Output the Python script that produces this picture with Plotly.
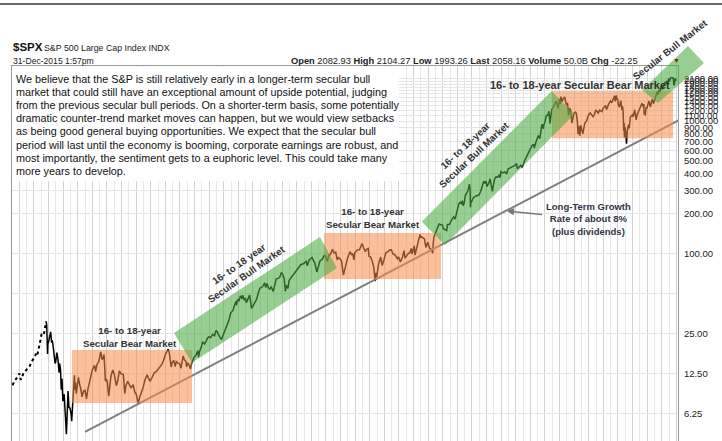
import math
import plotly.graph_objects as go

# ---------------- data (decimal year, index level) ----------------
early_years = [1925.05, 1925.3, 1925.55, 1925.8, 1926.0, 1926.2, 1926.35, 1926.55, 1926.75, 1926.95,
               1927.2, 1927.45, 1927.65, 1927.85, 1928.0, 1928.2, 1928.4, 1928.5, 1928.7, 1928.9,
               1929.05, 1929.2, 1929.4, 1929.55, 1929.68]
early_prices = [10.3, 10.9, 11.4, 12.0, 12.6, 11.3, 11.7, 12.6, 13.0, 13.3,
                13.8, 14.4, 15.4, 15.8, 16.4, 17.3, 18.2, 17.6, 19.5, 22.5,
                25.0, 24.5, 25.5, 28.5, 31.0]

years = [
    1929.68, 1929.75, 1929.8, 1929.83, 1929.87, 1929.92, 1930.0, 1930.15, 1930.3, 1930.42,
    1930.5, 1930.6, 1930.75, 1930.9, 1930.98, 1931.15, 1931.3, 1931.45, 1931.52, 1931.65,
    1931.75, 1931.85, 1931.97, 1932.05, 1932.15, 1932.3, 1932.45, 1932.55, 1932.68, 1932.8,
    1932.95, 1933.1, 1933.18, 1933.3, 1933.45, 1933.55, 1933.6, 1933.7, 1933.8, 1933.95,
    1934.1, 1934.25, 1934.4, 1934.6, 1934.8, 1935.0, 1935.2, 1935.4, 1935.6, 1935.8,
    1936.0, 1936.3, 1936.45, 1936.65, 1936.9, 1937.15, 1937.35, 1937.5, 1937.6, 1937.7,
    1937.8, 1937.9, 1938.05, 1938.25, 1938.4, 1938.55, 1938.8, 1939.0, 1939.3, 1939.5,
    1939.7, 1939.95, 1940.25, 1940.45, 1940.6, 1940.85, 1941.0, 1941.3, 1941.6, 1941.85,
    1942.0, 1942.3, 1942.5, 1942.75, 1942.95, 1943.2, 1943.5, 1943.75, 1943.9, 1944.2,
    1944.5, 1944.75, 1945.0, 1945.3, 1945.55, 1945.75, 1945.95, 1946.1, 1946.25, 1946.4,
    1946.55, 1946.7, 1946.8, 1946.95, 1947.15, 1947.35, 1947.5, 1947.75, 1948.0, 1948.15,
    1948.45, 1948.6, 1948.85, 1948.9, 1949.1, 1949.3, 1949.45,
    1949.6, 1949.8, 1949.95, 1950.2, 1950.45, 1950.55, 1950.7, 1950.95, 1951.1, 1951.4,
    1951.6, 1951.8, 1951.95, 1952.2, 1952.5, 1952.75, 1952.95, 1953.1, 1953.4, 1953.7,
    1953.95, 1954.2, 1954.5, 1954.7, 1954.95, 1955.1, 1955.3, 1955.5, 1955.7, 1955.75,
    1955.9, 1956.1, 1956.3, 1956.5, 1956.6, 1956.8, 1956.95, 1957.1, 1957.3, 1957.55,
    1957.7, 1957.8, 1957.95, 1958.2, 1958.5, 1958.75, 1958.95, 1959.2, 1959.45, 1959.6,
    1959.75, 1959.95, 1960.1, 1960.3, 1960.5, 1960.8, 1960.95, 1961.2, 1961.45, 1961.7,
    1961.9, 1962.1, 1962.3, 1962.45, 1962.6, 1962.8, 1962.95, 1963.2, 1963.5, 1963.8,
    1963.95, 1964.3, 1964.55, 1964.95, 1965.3, 1965.45, 1965.7, 1965.95, 1966.1, 1966.3,
    1966.5, 1966.75, 1966.95,
    1967.2, 1967.5, 1967.75, 1967.95, 1968.2, 1968.4, 1968.6, 1968.9, 1969.1, 1969.35,
    1969.55, 1969.7, 1969.95, 1970.15, 1970.4, 1970.55, 1970.75, 1970.95, 1971.3, 1971.5,
    1971.65, 1971.85, 1971.95, 1972.3, 1972.6, 1972.95, 1973.15, 1973.4, 1973.55, 1973.8,
    1973.9, 1974.1, 1974.3, 1974.55, 1974.75, 1974.85, 1974.95, 1975.2, 1975.5, 1975.7,
    1975.95, 1976.2, 1976.5, 1976.7, 1976.95, 1977.2, 1977.5, 1977.8, 1977.95, 1978.2,
    1978.5, 1978.7, 1978.85, 1979.0, 1979.3, 1979.5, 1979.7, 1979.8, 1979.95, 1980.1,
    1980.2, 1980.5, 1980.75, 1980.9, 1980.95, 1981.2, 1981.5, 1981.7, 1981.95, 1982.2,
    1982.45, 1982.6,
    1982.65, 1982.7, 1982.8, 1982.95, 1983.2, 1983.5, 1983.75, 1983.95, 1984.1, 1984.4,
    1984.55, 1984.65, 1984.95, 1985.2, 1985.5, 1985.7, 1985.95, 1986.2, 1986.45, 1986.6,
    1986.7, 1986.8, 1986.95, 1987.1, 1987.3, 1987.5, 1987.65, 1987.75, 1987.8, 1987.85,
    1987.95, 1988.2, 1988.5, 1988.75, 1988.95, 1989.2, 1989.45, 1989.62, 1989.8, 1989.95,
    1990.05, 1990.3, 1990.5, 1990.65, 1990.8, 1990.95, 1991.1, 1991.3, 1991.5, 1991.7,
    1991.85, 1991.98, 1992.2, 1992.5, 1992.75, 1992.95, 1993.2, 1993.5, 1993.75, 1993.95,
    1994.1, 1994.25, 1994.5, 1994.7, 1994.85, 1994.98, 1995.2, 1995.5, 1995.7, 1995.98,
    1996.2, 1996.45, 1996.55, 1996.75, 1996.98, 1997.1, 1997.3, 1997.45, 1997.6, 1997.7,
    1997.8, 1997.85, 1997.98, 1998.2, 1998.4, 1998.55, 1998.65, 1998.7, 1998.85, 1998.98,
    1999.2, 1999.4, 1999.55, 1999.8, 1999.9, 1999.98, 2000.1, 2000.2, 2000.35,
    2000.45, 2000.7, 2000.8, 2000.95, 2001.1, 2001.25, 2001.4, 2001.55, 2001.7, 2001.85,
    2001.98, 2002.2, 2002.3, 2002.45, 2002.55, 2002.65, 2002.75, 2002.8, 2002.9, 2002.98,
    2003.1, 2003.2, 2003.4, 2003.5, 2003.7, 2003.98, 2004.2, 2004.4, 2004.6, 2004.75,
    2004.98, 2005.3, 2005.5, 2005.8, 2005.98, 2006.3, 2006.45, 2006.7, 2006.98, 2007.15,
    2007.4, 2007.55, 2007.62, 2007.78, 2007.9, 2007.98, 2008.05, 2008.2, 2008.4, 2008.55,
    2008.65, 2008.72, 2008.8, 2008.85, 2008.9, 2008.98, 2009.1, 2009.18, 2009.3, 2009.45,
    2009.55, 2009.7, 2009.98, 2010.1, 2010.3, 2010.45, 2010.5, 2010.65, 2010.8, 2010.98,
    2011.15, 2011.3, 2011.5, 2011.55, 2011.6, 2011.7, 2011.75, 2011.85, 2011.98, 2012.25,
    2012.45, 2012.7, 2012.87, 2012.98, 2013.2, 2013.4, 2013.48, 2013.6, 2013.7, 2013.85,
    2013.98, 2014.1, 2014.3, 2014.5, 2014.6, 2014.7, 2014.8, 2014.95, 2015.1, 2015.2,
    2015.4, 2015.6, 2015.65, 2015.72, 2015.85, 2015.95, 2015.99,
]
prices = [
    31.0, 29.5, 24.0, 20.5, 17.7, 21.0, 21.7, 24.0, 25.9, 21.5,
    22.5, 21.0, 18.0, 15.0, 15.3, 18.1, 16.0, 12.8, 15.0, 13.5,
    9.5, 11.5, 7.8, 8.3, 8.8, 6.5, 4.4, 6.0, 9.3, 7.0,
    6.9, 6.2, 5.5, 7.2, 10.5, 12.2, 9.5, 10.8, 8.9, 10.0,
    11.8, 10.5, 9.8, 8.4, 9.3, 9.4, 8.1, 9.6, 10.9, 11.8,
    13.4, 14.5, 13.0, 14.8, 15.5, 18.3, 16.0, 16.5, 17.5, 14.0,
    11.0, 11.5, 11.0, 8.5, 10.0, 12.0, 13.4, 12.5, 10.2, 11.2,
    13.2, 12.5, 12.4, 8.9, 10.2, 11.0, 10.6, 9.8, 10.4, 9.0,
    8.9, 7.5, 8.4, 9.2, 9.8, 11.2, 12.3, 11.5, 11.0, 11.8,
    12.8, 13.0, 13.5, 14.2, 14.8, 15.8, 17.3, 18.0, 18.5, 19.2,
    18.0, 15.0, 14.1, 15.3, 15.8, 14.2, 15.5, 15.1, 14.8, 13.8,
    17.1, 16.0, 15.5, 14.2, 15.0, 14.5, 13.6,
    15.0, 15.8, 16.7, 17.3, 18.7, 16.7, 18.5, 20.0, 21.8, 21.0,
    22.5, 23.3, 23.8, 23.5, 24.8, 24.2, 26.6, 26.0, 24.0, 22.7,
    24.8, 26.9, 29.2, 31.5, 35.9, 36.8, 37.9, 41.5, 44.0, 41.0,
    45.5, 44.5, 48.5, 46.0, 49.0, 45.0, 46.6, 43.0, 46.0, 49.0,
    43.0, 39.0, 40.0, 42.0, 45.5, 51.0, 55.2, 56.0, 58.0, 60.7,
    56.0, 59.9, 56.0, 54.4, 56.5, 52.3, 58.1, 65.0, 65.5, 67.0,
    72.6, 70.0, 65.0, 52.3, 58.0, 55.0, 63.1, 66.0, 69.5, 73.0,
    75.0, 80.0, 83.0, 84.8, 88.0, 81.6, 90.0, 92.4, 94.0, 89.0,
    85.0, 73.2, 80.3,
    89.0, 91.0, 97.0, 96.5, 87.7, 98.0, 99.0, 108.4, 102.0, 103.0,
    90.0, 94.0, 92.0, 88.0, 69.3, 75.0, 84.0, 92.2, 104.0, 99.0,
    101.0, 90.2, 102.1, 107.0, 107.5, 119.9, 112.0, 104.0, 108.0, 110.0,
    96.0, 95.0, 90.0, 80.0, 62.3, 72.0, 67.0, 83.0, 95.0, 82.0,
    90.2, 102.0, 104.0, 107.0, 107.5, 100.0, 98.0, 92.0, 95.1, 86.9,
    95.0, 106.0, 93.0, 96.0, 101.0, 102.0, 110.0, 100.0, 107.9, 115.0,
    98.2, 115.0, 127.0, 140.5, 136.0, 134.0, 130.0, 112.0, 122.5, 111.0,
    108.0, 102.4,
    103.0, 120.0, 135.0, 140.6, 152.0, 168.0, 166.0, 164.9, 155.0, 151.0,
    150.0, 166.0, 167.2, 180.0, 190.0, 183.0, 211.3, 238.0, 245.0, 237.0,
    252.0, 231.0, 242.2, 275.0, 288.0, 305.0, 336.0, 310.0, 224.8, 250.0,
    247.1, 265.0, 272.0, 277.0, 277.7, 295.0, 325.0, 353.0, 340.0, 353.4,
    322.0, 340.0, 368.0, 320.0, 295.5, 330.2, 365.0, 380.0, 378.0, 390.0,
    375.0, 417.1, 408.0, 415.0, 400.0, 435.7, 445.0, 450.0, 460.0, 466.5,
    480.0, 438.0, 455.0, 465.0, 450.0, 459.3, 500.0, 545.0, 580.0, 615.9,
    650.0, 670.0, 626.0, 690.0, 740.7, 780.0, 737.0, 890.0, 950.0, 900.0,
    876.0, 940.0, 970.4, 1100.0, 1110.0, 1186.0, 1020.0, 957.0, 1130.0, 1229.0,
    1290.0, 1370.0, 1418.0, 1247.0, 1390.0, 1469.0, 1350.0, 1527.0, 1400.0,
    1450.0, 1520.0, 1390.0, 1320.3, 1370.0, 1103.0, 1255.0, 1200.0, 965.8, 1090.0,
    1148.1, 1170.0, 1140.0, 990.0, 797.7, 916.0, 815.0, 776.8, 930.0, 879.8,
    840.0, 800.7, 930.0, 975.0, 1000.0, 1111.9, 1150.0, 1100.0, 1080.0, 1115.0,
    1211.9, 1150.0, 1210.0, 1180.0, 1248.3, 1310.0, 1223.0, 1330.0, 1418.3, 1375.0,
    1510.0, 1553.0, 1406.0, 1565.0, 1440.0, 1468.4, 1330.0, 1273.0, 1426.0, 1214.0,
    1290.0, 1160.0, 848.0, 968.0, 752.4, 903.3, 800.0, 676.5, 850.0, 940.0,
    880.0, 1070.0, 1115.1, 1080.0, 1217.0, 1050.0, 1022.6, 1120.0, 1180.0, 1257.6,
    1340.0, 1363.0, 1270.0, 1345.0, 1120.0, 1180.0, 1099.0, 1260.0, 1257.6, 1419.0,
    1278.0, 1465.0, 1353.0, 1426.2, 1560.0, 1669.0, 1573.0, 1700.0, 1640.0, 1770.0,
    1848.4, 1741.0, 1880.0, 1978.0, 1930.0, 2010.0, 1862.0, 2090.0, 1990.0, 2110.0,
    2130.0, 2100.0, 1867.0, 1880.0, 2100.0, 2020.0, 2058.0,
]

# long-term growth trend line (end points)
trend_years = [1935.0, 2016.3]
trend_values = [4.58, 1015.0]

# y axis ticks
y_tickvals = [6.25, 12.5, 25, 50, 100, 200, 300, 400, 500, 600, 700, 800, 900,
              1000, 1100, 1200, 1300, 1400, 1500, 1600, 1700, 1800, 1900, 2000, 2100]
y_ticktext = ["6.25", "12.50", "25.00", "", "100.00", "200.00", "300.00", "400.00", "500.00",
              "600.00", "700.00", "800.00", "900.00", "1000.00", "1100.00", "1200.00", "1300.00",
              "1400.00", "1500.00", "1600.00", "1700.00", "1800.00", "1900.00", "2000.00", "2100.00"]

# regions (year, level) corners
bear_boxes = [
    (1933.2, 1949.66, 7.55, 18.9),
    (1967.74, 1983.77, 64.8, 143.9),
    (1998.97, 2015.55, 742.0, 1685.0),
]
bull_bands = [
    [(1947.19, 25.4), (1967.19, 134.2), (1969.52, 78.4), (1949.66, 15.2)],
    [(1981.12, 175.0), (1998.93, 1685.0), (2001.99, 1120.0), (1984.32, 116.9)],
    [(2011.30, 1715.0), (2017.60, 3675.0), (2019.79, 2737.0), (2013.49, 1370.0)],
]

comment_lines = [
    "We believe that the S&P is still relatively early in a longer-term secular bull",
    "market that could still have an exceptional amount of upside potential, judging",
    "from the previous secular bull periods. On a shorter-term basis, some potentially",
    "dramatic counter-trend market moves can happen, but we would view setbacks",
    "as being good general buying opportunities. We expect that the secular bull",
    "period will last until the economy is booming, corporate earnings are robust, and",
    "most importantly, the sentiment gets to a euphoric level. This could take many",
    "more years to develop.",
]

# ---------------- geometry ----------------
W, H = 722, 441
ML, MR, MT, MB = 12, 44, 66, 0
X0, X1 = 1925.0, 2016.233
Y0, Y1 = math.log10(3.9101), math.log10(2599.2)
PW, PH = W - ML - MR, H - MT - MB


def px(x):
    return (x - ML) / PW


def py(y):
    return (H - MB - y) / PH


def dx(yr):
    return (yr - X0) / (X1 - X0)


def dy(v):
    return (math.log10(v) - Y0) / (Y1 - Y0)


SANS = "Liberation Sans, Arial, sans-serif"

fig = go.Figure()
fig.add_trace(go.Scatter(x=early_years, y=early_prices, mode="lines",
                         line=dict(color="black", width=2, dash="dot"),
                         hoverinfo="skip", showlegend=False))
fig.add_trace(go.Scatter(x=years, y=prices, mode="lines",
                         line=dict(color="black", width=1.5),
                         hoverinfo="skip", showlegend=False))
fig.add_trace(go.Scatter(x=trend_years, y=trend_values, mode="lines",
                         line=dict(color="#808080", width=2),
                         hoverinfo="skip", showlegend=False))

shapes = []
# white comment box
shapes.append(dict(type="rect", xref="paper", yref="paper", x0=px(12.6), x1=px(399),
                   y0=py(181), y1=py(66.6), fillcolor="white", line=dict(width=0), layer="above"))
for (a, b, lo, hi) in bear_boxes:
    shapes.append(dict(type="rect", xref="paper", yref="paper", x0=dx(a), x1=dx(b),
                       y0=dy(lo), y1=dy(hi), fillcolor="rgb(245,140,75)", opacity=0.55,
                       line=dict(width=0), layer="above"))
for band in bull_bands:
    path = "M " + " L ".join(f"{dx(a):.5f},{dy(v):.5f}" for a, v in band) + " Z"
    shapes.append(dict(type="path", xref="paper", yref="paper", path=path,
                       fillcolor="rgb(75,170,65)", opacity=0.58, line=dict(width=0), layer="above"))
shapes.append(dict(type="line", xref="paper", yref="paper", x0=px(0), x1=px(722),
                   y0=py(4), y1=py(4), line=dict(color="#333333", width=1.6)))

ann = []


def text(x, y, s, size, color="#222", family=SANS, xanchor="center", angle=0, yanchor="middle"):
    ann.append(dict(x=px(x), y=py(y), xref="paper", yref="paper", text=s, showarrow=False,
                    xanchor=xanchor, yanchor=yanchor, textangle=angle,
                    font=dict(size=size, color=color, family=family)))


# header
text(11, 47, "<b>$SPX</b>", 11.5, "#111", SANS, "left")
text(42, 48, "S&P 500 Large Cap Index INDX", 8.8, "#222", SANS, "left")
text(11, 61, "31-Dec-2015 1:57pm", 8.6, "#222", SANS, "left")
text(289, 61, "<b>Open</b> 2082.93 <b>High</b> 2104.27 <b>Low</b> 1993.26 <b>Last</b> 2058.16 "
     "<b>Volume</b> 50.0B <b>Chg</b> -22.25", 9.3, "#222", SANS, "left")
text(676, 61, "▼", 7, "#8b1a1a")

for i, line in enumerate(comment_lines):
    text(14, 79 + i * 13.1, line, 10.8, "#111", SANS, "left")

LBL = "#333333"
text(130, 336.5, "<b>16- to 18-year</b><br><b>Secular Bear Market</b>", 9.7, LBL)
text(373, 217.5, "<b>16- to 18-year</b><br><b>Secular Bear Market</b>", 9.7, LBL)
text(580, 85, "<b>16- to 18-year Secular Bear Market</b>", 11, LBL)
text(243, 269, "<b>16- to 18 year</b><br><b>Secular Bull Market</b>", 9.8, LBL, angle=-35)
text(470, 150, "<b>16- to 18-year</b><br><b>Secular Bull Market</b>", 9.8, LBL, angle=-43)
text(670, 49, "<b>Secular Bull Market</b>", 9.8, LBL, angle=-38)

ann.append(dict(x=px(507), y=py(211), xref="paper", yref="paper",
                text="<b>Long-Term Growth</b><br><b>Rate of about 8%</b><br><b>(plus dividends)</b>",
                showarrow=True, ax=81, ay=8, arrowhead=2, arrowsize=1, arrowwidth=1.4,
                arrowcolor="#777777", standoff=0, startstandoff=2,
                font=dict(size=9.5, color="#333344", family=SANS), align="center"))

fig.update_layout(
    width=W, height=H,
    margin=dict(l=ML, r=MR, t=MT, b=MB, autoexpand=False),
    paper_bgcolor="white", plot_bgcolor="white",
    shapes=shapes, annotations=ann, showlegend=False,
    xaxis=dict(range=[X0, X1], type="linear", showticklabels=False, ticks="",
               tick0=1926, dtick=2, showgrid=True, gridcolor="#d2d2d2", gridwidth=1,
               minor=dict(dtick=1, tick0=1925, showgrid=True, gridcolor="#e8e8e8", gridwidth=1),
               showline=True, linecolor="#9a9a9a", linewidth=1, mirror=True, zeroline=False),
    yaxis=dict(type="log", range=[Y0, Y1], side="right", tickmode="array",
               tickvals=y_tickvals, ticktext=y_ticktext, ticks="",
               tickfont=dict(size=9.5, color="#222", family=SANS),
               showgrid=True, gridcolor="#e6e6e6", gridwidth=1,
               showline=True, linecolor="#9a9a9a", linewidth=1, mirror=True, zeroline=False,
               ticklabelstandoff=3),
)

fig.write_html("out.html", config={"displayModeBar": False},
               post_script="document.body.style.margin='0px';document.body.style.overflow='hidden';")
